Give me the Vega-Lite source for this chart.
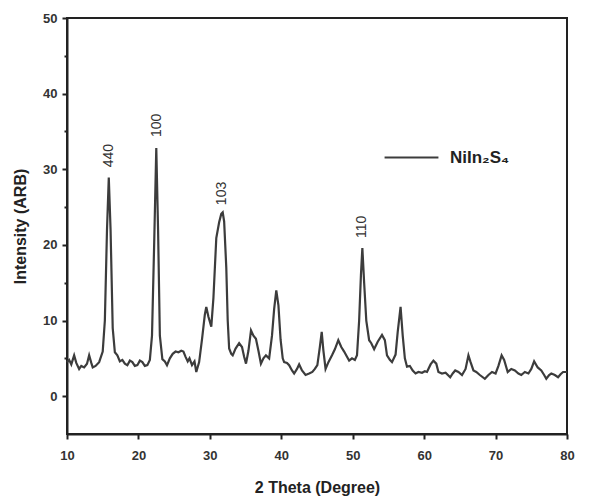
{
  "$schema": "https://vega.github.io/schema/vega-lite/v6.json",
  "width": 500,
  "height": 416,
  "autosize": {"type": "none"},
  "padding": {"left": 67, "top": 18, "right": 36, "bottom": 65},
  "background": "white",
  "config": {
    "view": {"stroke": "#222", "strokeWidth": 2},
    "font": "Liberation Sans"
  },
  "datasets": {
    "xrd": [
      {"t":10.0,"i":4.5},{"t":10.3,"i":4.8},{"t":10.6,"i":4.2},{"t":11.0,"i":5.4},{"t":11.3,"i":4.4},{"t":11.7,"i":3.6},{"t":12.0,"i":4.0},{"t":12.4,"i":3.8},{"t":12.8,"i":4.3},{"t":13.1,"i":5.4},{"t":13.4,"i":4.4},{"t":13.6,"i":3.8},{"t":14.0,"i":4.0},{"t":14.5,"i":4.5},{"t":15.0,"i":5.9},{"t":15.3,"i":10},{"t":15.6,"i":22},{"t":15.85,"i":28.9},{"t":16.1,"i":22},{"t":16.4,"i":9},{"t":16.7,"i":5.8},{"t":17.05,"i":5.4},{"t":17.4,"i":4.6},{"t":17.75,"i":4.8},{"t":18.1,"i":4.3},{"t":18.45,"i":4.1},{"t":18.8,"i":4.7},{"t":19.15,"i":4.5},{"t":19.5,"i":4.0},{"t":19.85,"i":4.1},{"t":20.2,"i":4.7},{"t":20.55,"i":4.5},{"t":20.9,"i":4.0},{"t":21.25,"i":4.1},{"t":21.6,"i":4.8},{"t":21.9,"i":8},{"t":22.2,"i":20},{"t":22.5,"i":32.8},{"t":22.75,"i":22},{"t":23.0,"i":8},{"t":23.35,"i":4.9},{"t":23.7,"i":4.6},{"t":24.0,"i":4.1},{"t":24.4,"i":5.0},{"t":24.8,"i":5.6},{"t":25.2,"i":5.9},{"t":25.6,"i":5.8},{"t":26.0,"i":6.0},{"t":26.3,"i":5.9},{"t":26.6,"i":5.2},{"t":26.9,"i":4.6},{"t":27.15,"i":5.0},{"t":27.5,"i":4.1},{"t":27.85,"i":4.6},{"t":28.1,"i":3.2},{"t":28.5,"i":4.5},{"t":28.9,"i":7.5},{"t":29.3,"i":10.8},{"t":29.5,"i":11.8},{"t":29.8,"i":10.5},{"t":30.2,"i":9.2},{"t":30.5,"i":13},{"t":30.9,"i":20.9},{"t":31.3,"i":23},{"t":31.6,"i":24.1},{"t":31.8,"i":24.3},{"t":32.0,"i":23.1},{"t":32.3,"i":17},{"t":32.5,"i":10},{"t":32.7,"i":6.3},{"t":33.0,"i":5.6},{"t":33.2,"i":5.4},{"t":33.6,"i":6.3},{"t":34.1,"i":7.0},{"t":34.5,"i":6.5},{"t":34.8,"i":5.2},{"t":35.06,"i":4.3},{"t":35.4,"i":6},{"t":35.76,"i":8.7},{"t":36.1,"i":8.0},{"t":36.45,"i":7.6},{"t":36.8,"i":6},{"t":37.15,"i":4.3},{"t":37.5,"i":5.0},{"t":37.85,"i":5.4},{"t":38.3,"i":5.0},{"t":38.7,"i":8},{"t":39.0,"i":11.5},{"t":39.3,"i":14.0},{"t":39.6,"i":12},{"t":39.9,"i":7.5},{"t":40.2,"i":5.0},{"t":40.4,"i":4.5},{"t":40.8,"i":4.4},{"t":41.1,"i":4.1},{"t":41.5,"i":3.4},{"t":41.8,"i":3.0},{"t":42.2,"i":3.6},{"t":42.5,"i":4.2},{"t":42.9,"i":3.4},{"t":43.4,"i":2.8},{"t":43.9,"i":3.0},{"t":44.35,"i":3.2},{"t":44.7,"i":3.6},{"t":45.05,"i":4.1},{"t":45.4,"i":6.5},{"t":45.66,"i":8.5},{"t":45.9,"i":6},{"t":46.2,"i":3.6},{"t":46.6,"i":4.5},{"t":47.1,"i":5.4},{"t":47.5,"i":6.2},{"t":47.98,"i":7.4},{"t":48.4,"i":6.5},{"t":48.8,"i":5.9},{"t":49.2,"i":5.2},{"t":49.5,"i":4.7},{"t":49.9,"i":5.0},{"t":50.3,"i":4.8},{"t":50.6,"i":5.4},{"t":50.9,"i":10},{"t":51.15,"i":16},{"t":51.35,"i":19.6},{"t":51.6,"i":15},{"t":51.9,"i":10},{"t":52.3,"i":7.4},{"t":52.6,"i":7.0},{"t":53.0,"i":6.2},{"t":53.5,"i":7.2},{"t":54.1,"i":8.1},{"t":54.5,"i":7.4},{"t":54.8,"i":5.4},{"t":55.2,"i":4.8},{"t":55.5,"i":4.5},{"t":56.0,"i":5.5},{"t":56.3,"i":8.5},{"t":56.7,"i":11.8},{"t":57.0,"i":8},{"t":57.3,"i":5},{"t":57.6,"i":3.9},{"t":58.0,"i":4.0},{"t":58.4,"i":3.4},{"t":58.8,"i":3.0},{"t":59.2,"i":3.2},{"t":59.7,"i":3.1},{"t":60.1,"i":3.3},{"t":60.4,"i":3.2},{"t":60.9,"i":4.2},{"t":61.3,"i":4.7},{"t":61.7,"i":4.3},{"t":62.0,"i":3.2},{"t":62.5,"i":3.0},{"t":63.0,"i":3.1},{"t":63.65,"i":2.5},{"t":64.0,"i":3.0},{"t":64.35,"i":3.4},{"t":64.8,"i":3.2},{"t":65.3,"i":2.8},{"t":65.8,"i":3.6},{"t":66.2,"i":5.4},{"t":66.5,"i":4.5},{"t":66.9,"i":3.4},{"t":67.3,"i":3.2},{"t":67.8,"i":2.8},{"t":68.5,"i":2.3},{"t":69.0,"i":2.8},{"t":69.5,"i":3.2},{"t":70.0,"i":3.0},{"t":70.4,"i":4.0},{"t":70.85,"i":5.4},{"t":71.2,"i":4.8},{"t":71.7,"i":3.2},{"t":72.2,"i":3.6},{"t":72.7,"i":3.4},{"t":73.2,"i":3.0},{"t":73.6,"i":2.8},{"t":74.1,"i":3.2},{"t":74.6,"i":3.0},{"t":75.0,"i":3.6},{"t":75.4,"i":4.6},{"t":75.9,"i":3.8},{"t":76.4,"i":3.4},{"t":76.8,"i":2.8},{"t":77.1,"i":2.3},{"t":77.5,"i":2.8},{"t":77.8,"i":3.0},{"t":78.3,"i":2.8},{"t":78.75,"i":2.5},{"t":79.1,"i":2.9},{"t":79.45,"i":3.2},{"t":80.0,"i":3.2}
    ],
    "labels": [
      {"t": 15.85, "i": 31.8, "hkl": "440"},
      {"t": 22.55, "i": 35.8, "hkl": "100"},
      {"t": 31.7, "i": 26.8, "hkl": "103"},
      {"t": 51.3, "i": 22.4, "hkl": "110"}
    ]
  },
  "layer": [
    {
      "data": {"name": "xrd"},
      "transform": [{"calculate": "'NiIn₂S₄'", "as": "series"}],
      "mark": {"type": "line", "strokeWidth": 2.2, "color": "#3c3c3c", "interpolate": "linear"},
      "encoding": {
        "x": {
          "field": "t", "type": "quantitative",
          "scale": {"domain": [10, 80], "nice": false, "zero": false},
          "axis": {
            "title": "2 Theta (Degree)",
            "values": [10,15,20,25,30,35,40,45,50,55,60,65,70,75,80],
            "labelExpr": "datum.value % 10 == 0 ? datum.label : ''",
            "labelFlush": false,
            "grid": false,
            "domainColor": "#222", "domainWidth": 2,
            "tickColor": "#222", "tickWidth": 2,
            "tickSize": {"condition": {"test": "datum.value % 10 != 0", "value": 3}, "value": 5},
            "labelFont": "Liberation Sans", "labelFontSize": 13, "labelFontWeight": "bold", "labelColor": "#333",
            "labelPadding": 10,
            "titleFont": "Liberation Sans", "titleFontSize": 16, "titleFontWeight": "bold", "titleColor": "#222",
            "titlePadding": 17
          }
        },
        "y": {
          "field": "i", "type": "quantitative",
          "scale": {"domain": [-5, 50], "nice": false, "zero": false},
          "axis": {
            "title": "Intensity (ARB)",
            "values": [0,5,10,15,20,25,30,35,40,45,50],
            "labelExpr": "datum.value % 10 == 0 ? datum.label : ''",
            "labelFlush": false,
            "grid": false,
            "domainColor": "#222", "domainWidth": 2,
            "tickColor": "#222", "tickWidth": 2,
            "tickSize": {"condition": {"test": "datum.value % 10 != 0", "value": 3}, "value": 5},
            "labelFont": "Liberation Sans", "labelFontSize": 13, "labelFontWeight": "bold", "labelColor": "#333",
            "labelPadding": 5,
            "titleFont": "Liberation Sans", "titleFontSize": 16, "titleFontWeight": "bold", "titleColor": "#222",
            "titlePadding": 14
          }
        },
        "color": {
          "field": "series", "type": "nominal",
          "scale": {"range": ["#3c3c3c"]},
          "legend": {
            "title": null,
            "orient": "none",
            "legendX": 316,
            "legendY": 111,
            "symbolType": "stroke",
            "symbolSize": 2900,
            "symbolStrokeWidth": 2.2,
            "labelFont": "Liberation Sans",
            "labelFontSize": 17,
            "labelFontWeight": "bold",
            "labelColor": "#222",
            "labelOffset": 10
          }
        }
      }
    },
    {
      "data": {"name": "labels"},
      "mark": {"type": "text", "angle": 270, "align": "center", "baseline": "middle", "font": "Liberation Sans", "fontSize": 14, "color": "#333"},
      "encoding": {
        "x": {"field": "t", "type": "quantitative"},
        "y": {"field": "i", "type": "quantitative"},
        "text": {"field": "hkl"}
      }
    }
  ]
}
